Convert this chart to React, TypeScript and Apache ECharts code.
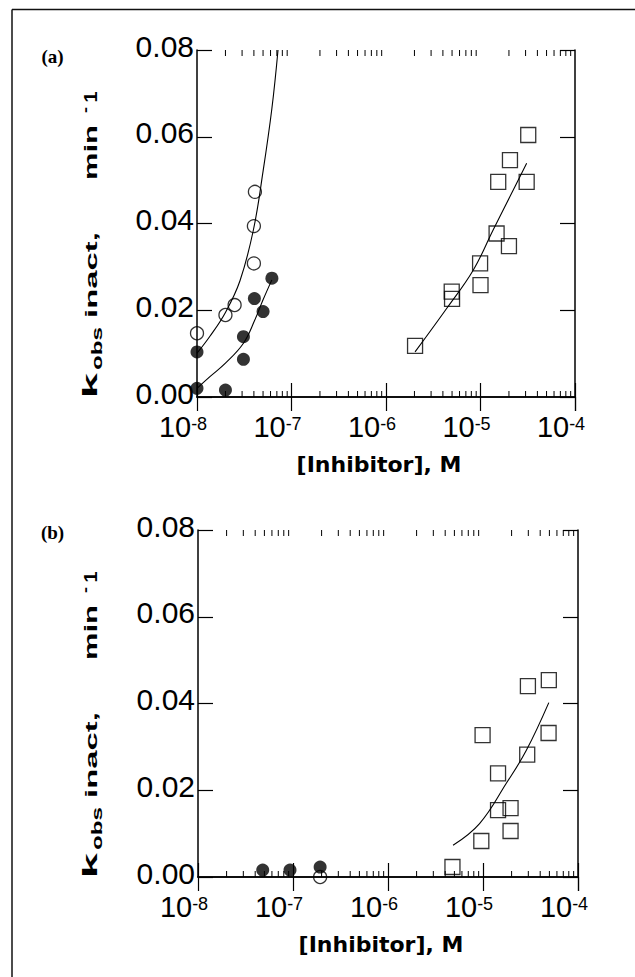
import React, { useEffect, useRef } from "react";
import * as echarts from "echarts";

// ---- axis ranges / ticks ----
const X_MIN = 1e-8;
const X_MAX = 1e-4;
const Y_MIN = 0;
const Y_MAX = 0.08;
const Y_STEP = 0.02;
const minorMantissas = [2, 3, 4, 5, 6, 7, 8, 9];
const minorDecades = [-8, -7, -6, -5];
const xTitle = "[Inhibitor], M";
const panelLabels = ["(a)", "(b)"];

// ---- panel (a) ----
const aOpenX = [1.0e-8, 2.0e-8, 2.5e-8, 4.0e-8, 4.0e-8, 4.1e-8];
const aOpenY = [0.0147, 0.0189, 0.0212, 0.0308, 0.0394, 0.0473];
const aFilledX = [1.0e-8, 1.0e-8, 2.0e-8, 3.1e-8, 3.1e-8, 4.05e-8, 5.0e-8, 6.2e-8];
const aFilledY = [0.0104, 0.002, 0.0016, 0.0139, 0.0087, 0.0227, 0.0197, 0.0274];
const aSquareX = [3.2e-5, 2.05e-5, 1.54e-5, 3.08e-5, 1.48e-5, 2.0e-5, 9.9e-6, 1.0e-5, 4.96e-6, 5.0e-6, 2.03e-6];
const aSquareY = [0.0604, 0.0546, 0.0496, 0.0496, 0.0377, 0.0348, 0.0308, 0.0258, 0.0243, 0.0226, 0.0118];
const aOpenFitX = [1.0e-8, 1.37e-8, 2.0e-8, 2.85e-8, 3.95e-8, 5.0e-8, 6.2e-8, 7.2e-8];
const aOpenFitY = [0.0101, 0.014, 0.0195, 0.0268, 0.0385, 0.052, 0.0665, 0.08];
const aFilledFitX = [1.0e-8, 1.37e-8, 2.0e-8, 3.1e-8, 4.1e-8, 5.0e-8, 6.2e-8];
const aFilledFitY = [0.002, 0.0047, 0.0078, 0.0124, 0.0178, 0.0224, 0.027];
const aSquareFitX = [2.03e-6, 4.38e-6, 8.4e-6, 1.36e-5, 2.05e-5, 3.08e-5];
const aSquareFitY = [0.0104, 0.0204, 0.0293, 0.0385, 0.0462, 0.0539];

// ---- panel (b) ----
const bOpenX = [1.93e-7];
const bOpenY = [0.0];
const bFilledX = [4.8e-8, 9.3e-8, 1.93e-7];
const bFilledY = [0.0016, 0.0016, 0.0023];
const bSquareX = [4.93e-5, 2.97e-5, 9.9e-6, 4.9e-5, 2.92e-5, 1.44e-5, 1.95e-5, 1.44e-5, 1.95e-5, 9.6e-6, 4.77e-6];
const bSquareY = [0.0454, 0.044, 0.0327, 0.0332, 0.0282, 0.0239, 0.0159, 0.0154, 0.0106, 0.0083, 0.0023];
const bSquareFitX = [4.84e-6, 9.2e-6, 1.76e-5, 2.86e-5, 4.93e-5];
const bSquareFitY = [0.0073, 0.0123, 0.0216, 0.0292, 0.0402];

const GRIDS = [
  { left: 197, top: 50, width: 378, height: 347 },
  { left: 198, top: 530, width: 380, height: 347 },
];
const PANEL_DY = [0, 480];

const BLACK = "#000";
const SANS = "Liberation Sans";

function pairs(xs: number[], ys: number[]) {
  return xs.map((x, i) => [x, ys[i]]);
}

function scatter(gi: number, xs: number[], ys: number[], symbol: string, size: number, filled: boolean) {
  return {
    type: "scatter",
    xAxisIndex: gi * 2,
    yAxisIndex: gi * 2,
    data: pairs(xs, ys),
    symbol,
    symbolSize: size,
    clip: false,
    silent: true,
    z: 4,
    itemStyle: filled
      ? { color: BLACK, borderColor: BLACK, borderWidth: 0 }
      : { color: "rgba(0,0,0,0)", borderColor: BLACK, borderWidth: 1.3 },
  };
}

function fit(gi: number, xs: number[], ys: number[]) {
  return {
    type: "line",
    xAxisIndex: gi * 2,
    yAxisIndex: gi * 2,
    data: pairs(xs, ys),
    smooth: 0.4,
    showSymbol: false,
    symbol: "none",
    clip: false,
    silent: true,
    z: 3,
    lineStyle: { color: BLACK, width: 1.1 },
  };
}

function minorTicks(gi: number) {
  const vals: number[][] = [];
  minorDecades.forEach((d) => minorMantissas.forEach((m) => vals.push([m * Math.pow(10, d), Y_MIN])));
  return {
    type: "custom",
    xAxisIndex: gi * 2,
    yAxisIndex: gi * 2,
    data: vals,
    silent: true,
    clip: false,
    z: 5,
    renderItem: (_p: any, api: any) => {
      const v = api.value(0);
      const b = api.coord([v, Y_MIN]);
      const t = api.coord([v, Y_MAX]);
      const st = { stroke: BLACK, lineWidth: 1 };
      return {
        type: "group",
        children: [
          { type: "line", shape: { x1: b[0], y1: b[1], x2: b[0], y2: b[1] - 6 }, style: st },
          { type: "line", shape: { x1: t[0], y1: t[1], x2: t[0], y2: t[1] + 6 }, style: st },
        ],
      };
    },
  };
}

function xAxes(gi: number) {
  const base = {
    type: "log",
    logBase: 10,
    min: X_MIN,
    max: X_MAX,
    gridIndex: gi,
    splitLine: { show: false },
    axisLine: { show: true, lineStyle: { color: BLACK, width: 1.5 } },
    axisTick: { show: true, inside: true, length: 14, lineStyle: { color: BLACK, width: 1.2 } },
  };
  return [
    {
      ...base,
      position: "bottom",
      name: xTitle,
      nameLocation: "middle",
      nameGap: 56,
      nameTextStyle: { fontFamily: "DejaVu Sans", fontWeight: "bold", fontSize: 22, color: BLACK, padding: [0, 14, 0, 0] },
      axisLabel: {
        show: true,
        margin: 18,
        padding: [0, 28, 0, 0],
        formatter: (v: number) => `{b|10}{s|${Math.round(Math.log10(v))}}`,
        rich: {
          b: { fontFamily: SANS, fontSize: 29, lineHeight: 26, color: BLACK, verticalAlign: "bottom" },
          s: { fontFamily: SANS, fontSize: 18, lineHeight: 16, color: BLACK, verticalAlign: "top" },
        },
      },
    },
    { ...base, position: "top", axisLabel: { show: false } },
  ];
}

function yAxes(gi: number) {
  const base = {
    type: "value",
    min: Y_MIN,
    max: Y_MAX,
    interval: Y_STEP,
    gridIndex: gi,
    splitLine: { show: false },
    axisLine: { show: true, lineStyle: { color: BLACK, width: 1.5 } },
    axisTick: { show: true, inside: true, length: 15, lineStyle: { color: BLACK, width: 1.2 } },
  };
  return [
    {
      ...base,
      position: "left",
      axisLabel: {
        show: true,
        margin: 3,
        fontFamily: SANS,
        fontSize: 30,
        lineHeight: 8,
        verticalAlign: "bottom",
        color: BLACK,
        formatter: (v: number) => v.toFixed(2),
      },
    },
    { ...base, position: "right", axisLabel: { show: false } },
  ];
}

function measure(text: string, font: string) {
  const c = document.createElement("canvas").getContext("2d");
  if (!c) return text.length * 10;
  c.font = font;
  return c.measureText(text).width;
}

// y-axis title pieces: text, font size, centre along the title, stretched length, baseline x
const yTitlePieces = [
  { text: "k", fs: 20, cy: 385.5, len: 25, base: 97 },
  { text: "obs", fs: 14, cy: 348.5, len: 43, base: 102 },
  { text: "inact,", fs: 17, cy: 275, len: 86, base: 97 },
  { text: "min", fs: 19, cy: 152.5, len: 55, base: 97 },
  { text: "-", fs: 14, cy: 110, len: 6, base: 90 },
  { text: "1", fs: 19, cy: 97, len: 11, base: 97 },
];

function yTitle(dy: number) {
  return yTitlePieces.map((p) => {
    const font = `bold ${p.fs}px "${SANS}"`;
    const w = measure(p.text, font);
    return {
      type: "text",
      x: p.base - 0.35 * p.fs,
      y: p.cy + dy,
      rotation: Math.PI / 2,
      scaleX: p.len / w,
      style: {
        text: p.text,
        font,
        fill: BLACK,
        align: "center",
        verticalAlign: "middle",
      },
    };
  });
}

export default function App() {
  const ref = useRef<HTMLDivElement>(null);
  useEffect(() => {
    document.body.style.margin = "0";
    if (!ref.current) return;
    const chart = echarts.init(ref.current, undefined, { renderer: "svg" });
    const graphic: any[] = [
      { type: "line", shape: { x1: 12, y1: 9.5, x2: 635, y2: 9.5 }, style: { stroke: "#111", lineWidth: 1.5 } },
      { type: "line", shape: { x1: 12, y1: 9.5, x2: 12, y2: 977 }, style: { stroke: "#111", lineWidth: 1.5 } },
    ];
    panelLabels.forEach((t, i) => {
      graphic.push({
        type: "text",
        x: 52.5,
        y: 56 + PANEL_DY[i] - (i === 1 ? 4 : 0),
        style: {
          text: t,
          font: 'bold 19px "Liberation Serif"',
          fill: BLACK,
          align: "center",
          verticalAlign: "middle",
        },
      });
      yTitle(PANEL_DY[i]).forEach((g) => graphic.push(g));
    });

    chart.setOption({
      animation: false,
      backgroundColor: "#fff",
      grid: GRIDS.map((g) => ({ ...g, containLabel: false })),
      xAxis: [...xAxes(0), ...xAxes(1)],
      yAxis: [...yAxes(0), ...yAxes(1)],
      graphic,
      series: [
        minorTicks(0),
        minorTicks(1),
        fit(0, aOpenFitX, aOpenFitY),
        fit(0, aFilledFitX, aFilledFitY),
        fit(0, aSquareFitX, aSquareFitY),
        scatter(0, aOpenX, aOpenY, "circle", 13, false),
        scatter(0, aFilledX, aFilledY, "circle", 13, true),
        scatter(0, aSquareX, aSquareY, "rect", 15, false),
        fit(1, bSquareFitX, bSquareFitY),
        scatter(1, bOpenX, bOpenY, "circle", 13, false),
        scatter(1, bFilledX, bFilledY, "circle", 13, true),
        scatter(1, bSquareX, bSquareY, "rect", 15, false),
      ],
    });
    return () => chart.dispose();
  }, []);
  return <div ref={ref} style={{ width: 635, height: 977 }} />;
}
